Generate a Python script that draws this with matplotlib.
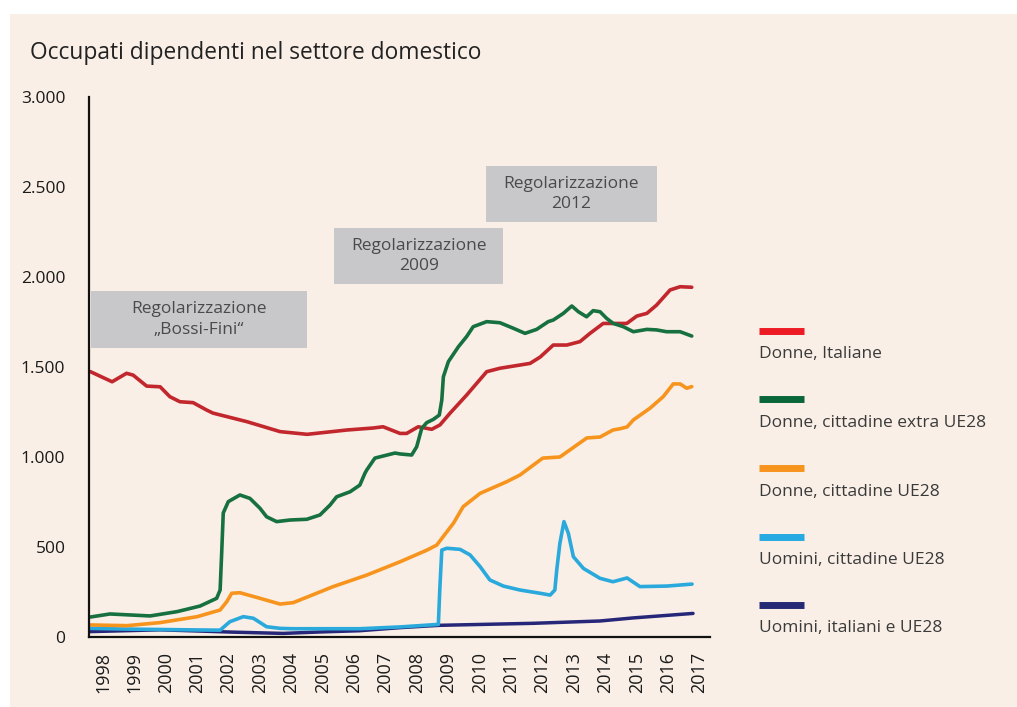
import matplotlib.pyplot as plt
from matplotlib.ticker import FuncFormatter
from matplotlib.lines import Line2D
from matplotlib.patches import Rectangle

plt.rcParams['font.family'] = ['Open Sans', 'DejaVu Sans']

# --- data (year, thousands) ---------------------------------------------------
years_red = [1997.6, 1998.29, 1998.75, 1998.96, 1999.39, 1999.82, 2000.13, 2000.45, 2000.87,
             2001.3, 2001.5, 2002.59, 2003.64, 2004.5, 2005.77, 2006.6, 2006.92, 2007.46,
             2007.67, 2008.04, 2008.47, 2008.73, 2009.05, 2009.58, 2010.22, 2010.64, 2011.28,
             2011.6, 2011.92, 2012.34, 2012.77, 2013.19, 2013.51, 2013.93, 2014.36, 2014.68,
             2015.0, 2015.32, 2015.63, 2016.06, 2016.38, 2016.75]
red = [1474, 1418, 1465, 1455, 1394, 1390, 1335, 1307, 1302,
       1261, 1244, 1196, 1141, 1126, 1150, 1161, 1168, 1131,
       1131, 1168, 1154, 1178, 1243, 1344, 1474, 1493, 1511,
       1520, 1555, 1622, 1622, 1641, 1687, 1742, 1742, 1742,
       1783, 1798, 1844, 1928, 1946, 1943]

years_green = [1997.6, 1998.22, 1999.5, 2000.36, 2001.09, 2001.62, 2001.73, 2001.78, 2001.83,
               2001.99, 2002.36, 2002.68, 2003.0, 2003.21, 2003.53, 2003.96, 2004.49, 2004.91,
               2005.23, 2005.44, 2005.87, 2006.18, 2006.34, 2006.4, 2006.66, 2007.3, 2007.46,
               2007.83, 2007.99, 2008.15, 2008.31, 2008.52, 2008.71, 2008.79, 2008.84, 2009.0,
               2009.32, 2009.58, 2009.79, 2010.22, 2010.64, 2011.07, 2011.44, 2011.81, 2012.18,
               2012.34, 2012.66, 2012.93, 2013.14, 2013.4, 2013.61, 2013.83, 2014.04, 2014.25,
               2014.57, 2014.89, 2015.32, 2015.63, 2015.95, 2016.38, 2016.75]
green = [111, 128, 117, 141, 172, 215, 261, 467, 689,
         752, 789, 770, 715, 668, 641, 650, 654, 678,
         733, 779, 807, 844, 909, 928, 994, 1022, 1017,
         1011, 1057, 1159, 1191, 1209, 1233, 1317, 1446, 1530,
         1613, 1669, 1724, 1752, 1746, 1715, 1687, 1709, 1752,
         1761, 1798, 1839, 1807, 1779, 1813, 1807, 1770, 1742,
         1724, 1696, 1709, 1706, 1696, 1696, 1672]

years_orange = [1997.6, 1998.76, 1999.82, 2001.0, 2001.73, 2001.94, 2002.1, 2002.36, 2003.0,
                2003.64, 2004.06, 2005.33, 2006.4, 2007.46, 2008.32, 2008.63, 2008.83, 2009.16,
                2009.47, 2010.01, 2010.86, 2011.28, 2011.92, 2012.01, 2012.55, 2013.41, 2013.83,
                2014.24, 2014.46, 2014.69, 2014.89, 2015.42, 2015.84, 2016.16, 2016.38, 2016.59,
                2016.75]
orange = [67, 63, 80, 113, 150, 196, 243, 246, 215,
          183, 191, 280, 344, 418, 483, 511, 557, 632,
          724, 798, 863, 900, 983, 994, 1000, 1106, 1111,
          1150, 1157, 1167, 1206, 1271, 1335, 1406, 1406, 1382,
          1391]

years_lblue = [1997.6, 1998.76, 2001.09, 2001.73, 2002.04, 2002.47, 2002.79, 2003.21, 2003.64,
               2004.05, 2006.18, 2007.46, 2008.68, 2008.73, 2008.79, 2008.95, 2009.37, 2009.69,
               2010.01, 2010.32, 2010.75, 2011.28, 2011.92, 2012.24, 2012.39, 2012.45, 2012.55,
               2012.68, 2012.82, 2012.98, 2013.3, 2013.83, 2014.24, 2014.69, 2015.1, 2015.96,
               2016.76]
lblue = [48, 44, 39, 38, 85, 113, 104, 57, 48,
         46, 46, 56, 70, 280, 483, 493, 487, 456,
         391, 317, 283, 261, 243, 233, 261, 372, 520,
         641, 576, 446, 381, 326, 307, 328, 280, 283,
         294]

years_dblue = [1997.6, 1999.82, 2001.09, 2002.14, 2003.73, 2004.91, 2006.18, 2007.46, 2008.32,
               2008.73, 2011.69, 2013.83, 2014.88, 2016.79]
dblue = [30, 40, 33, 27, 20, 28, 35, 52, 61, 65, 76, 89, 106, 131]

tick_years = list(range(1998, 2018))
series_labels = ['Donne, Italiane', 'Donne, cittadine extra UE28', 'Donne, cittadine UE28',
                 'Uomini, cittadine UE28', 'Uomini, italiani e UE28']
box_texts = ['Regolarizzazione\n\u201eBossi-Fini\u201c', 'Regolarizzazione\n2009',
             'Regolarizzazione\n2012']

# --- styling -------------------------------------------------------------------
bg = '#f9efe6'
line_cols = ['#c1272d', '#17703f', '#f7941d', '#2aa9dc', '#27277a']
legend_cols = ['#ed1c24', '#0a6639', '#f7941d', '#27aae1', '#262a74']

fig = plt.figure(figsize=(10.17, 7.07), dpi=100, facecolor='white')
# peach panel, white strip on top and left like the source
fig.add_artist(Rectangle((10 / 1017, 0), 1, 1 - 14 / 707, transform=fig.transFigure,
                         facecolor=bg, edgecolor='none', zorder=0))
ax = fig.add_axes([0.0875, 0.099, 0.6106, 0.7638], facecolor=bg)

lw = 2.6
kw = dict(solid_capstyle='round', solid_joinstyle='round')
ax.plot(years_dblue, dblue, color=line_cols[4], lw=2.5, **kw)
ax.plot(years_lblue, lblue, color=line_cols[3], lw=lw, **kw)
ax.plot(years_orange, orange, color=line_cols[2], lw=lw, **kw)
ax.plot(years_red, red, color=line_cols[0], lw=lw, **kw)
ax.plot(years_green, green, color=line_cols[1], lw=lw, **kw)

ax.set_xlim(1997.554, 2017.33)
ax.set_ylim(0, 3000)
ax.set_yticks([0, 500, 1000, 1500, 2000, 2500, 3000])
ax.yaxis.set_major_formatter(FuncFormatter(lambda v, p: f'{int(v):,}'.replace(',', '.')))
ax.set_xticks(tick_years)
ax.set_xticklabels([str(y) for y in tick_years], rotation=90)
ax.tick_params(axis='y', length=0, pad=17, labelsize=12.5, labelcolor='#1a1a1a')
ax.tick_params(axis='x', length=0, pad=11, labelsize=13, labelcolor='#1a1a1a')
for s in ['top', 'right']:
    ax.spines[s].set_visible(False)
for s in ['left', 'bottom']:
    ax.spines[s].set_linewidth(1.6)
    ax.spines[s].set_color('#111111')

# grey "Regolarizzazione" boxes (data coordinates: x0, x1, y0, y1)
boxes = [(1997.62, 2004.5, 1606, 1922), (2005.36, 2010.74, 1961, 2272), (2010.2, 2015.64, 2306, 2617)]
for (x0, x1, y0, y1), txt in zip(boxes, box_texts):
    ax.add_patch(Rectangle((x0, y0), x1 - x0, y1 - y0, facecolor='#c8c8ca',
                           edgecolor='none', zorder=1, clip_on=False))
    ax.text((x0 + x1) / 2, (y0 + y1) / 2, txt, ha='center', va='center', fontsize=12.5,
            color='#4a4a4a', linespacing=1.35, zorder=2)

# title
fig.text(30 / 1017, 1 - 53 / 707, 'Occupati dipendenti nel settore domestico',
         fontsize=16.4, color='#222222', va='center', ha='left')

# legend on the right: colored bar above each label
bar_y = [331, 399, 468, 537, 605]
text_y = [354, 423, 492, 560, 628]
for col, lab, by, ty in zip(legend_cols, series_labels, bar_y, text_y):
    fig.add_artist(Line2D([759 / 1017, 804 / 1017], [1 - by / 707, 1 - by / 707],
                          color=col, lw=5, solid_capstyle='butt'))
    fig.text(759 / 1017, 1 - ty / 707, lab, fontsize=12.5, color='#3a3a3a',
             va='center', ha='left')

fig.savefig('out.png', dpi=100, facecolor='white')
